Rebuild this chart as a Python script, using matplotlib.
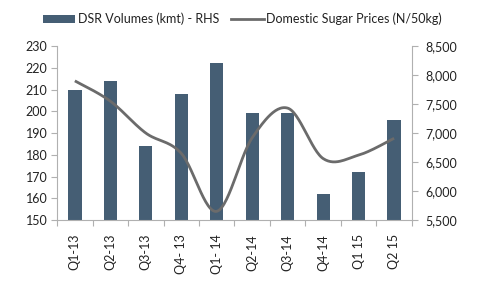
import numpy as np
import matplotlib
matplotlib.use("Agg")
import matplotlib.pyplot as plt
from matplotlib.lines import Line2D
from matplotlib.patches import Patch

categories = ["Q1-13", "Q2-13", "Q3-13", "Q4- 13", "Q1- 14", "Q2-14", "Q3-14", "Q4-14", "Q1 15", "Q2 15"]
volumes = [210, 214, 184, 208, 222, 199, 199, 162, 172, 196]
prices = [7900, 7550, 7000, 6650, 5650, 6920, 7430, 6560, 6620, 6910]
left_ticks = [150, 160, 170, 180, 190, 200, 210, 220, 230]
right_ticks = [5500, 6000, 6500, 7000, 7500, 8000, 8500]

bar_color = "#455E74"
line_color = "#6B6B6B"
spine_color = "#B0B0B0"
text_color = "#222222"

plt.rcParams['font.family'] = ['Lato', 'DejaVu Sans']

def smooth(xs, ys, n=30):
    # Bezier smoothing similar to spreadsheet "smoothed line"
    xs = np.asarray(xs, float); ys = np.asarray(ys, float)
    px, py = [], []
    m = len(xs)
    for i in range(m - 1):
        p0 = np.array([xs[max(i - 1, 0)], ys[max(i - 1, 0)]])
        p1 = np.array([xs[i], ys[i]])
        p2 = np.array([xs[i + 1], ys[i + 1]])
        p3 = np.array([xs[min(i + 2, m - 1)], ys[min(i + 2, m - 1)]])
        c1 = p1 + (p2 - p0) / 6.0
        c2 = p2 - (p3 - p1) / 6.0
        t = np.linspace(0, 1, n)[:, None]
        pts = ((1 - t) ** 3) * p1 + 3 * ((1 - t) ** 2) * t * c1 + 3 * (1 - t) * t ** 2 * c2 + t ** 3 * p2
        px.extend(pts[:, 0]); py.extend(pts[:, 1])
    return np.array(px), np.array(py)

fig = plt.figure(figsize=(4.8, 2.88), dpi=100)
ax = fig.add_axes([0.119, 0.236, 0.739, 0.604])
x = np.arange(len(categories))
ax.bar(x, volumes, width=0.375, color=bar_color, zorder=2)
ax.set_ylim(150, 230)
ax.set_xlim(-0.5, len(categories) - 0.5)
ax.set_yticks(left_ticks)
ax.set_yticklabels([str(v) for v in left_ticks], fontsize=9, color=text_color)

ax2 = ax.twinx()
sx, sy = smooth(x, prices)
ax2.plot(sx, sy, color=line_color, lw=2, zorder=3, solid_capstyle='butt')
ax2.set_ylim(5500, 8500)
ax2.set_yticks(right_ticks)
ax2.set_yticklabels([f"{v:,}" for v in right_ticks], fontsize=9, color=text_color)

ax.set_xticks(np.arange(len(categories) + 1) - 0.5, minor=False)
ax.set_xticklabels([])
ax.set_xticks(x, minor=True)
ax.set_xticklabels(categories, minor=True, rotation=90, fontsize=9, color=text_color)
ax.tick_params(axis='x', which='minor', length=0, pad=10)
ax.tick_params(axis='x', which='major', length=4, color=spine_color, direction='out')
ax.tick_params(axis='y', length=4, color=spine_color, pad=3)
ax2.tick_params(axis='y', length=4, color=spine_color, pad=6)

for a in (ax, ax2):
    for s in a.spines.values():
        s.set_visible(False)
ax.spines['left'].set_visible(True)
ax.spines['left'].set_color(spine_color)
ax.spines['bottom'].set_visible(True)
ax.spines['bottom'].set_color(spine_color)
ax2.spines['right'].set_visible(True)
ax2.spines['right'].set_color(spine_color)

handles = [Patch(facecolor=bar_color, edgecolor='none'),
           Line2D([0], [0], color=line_color, lw=2)]
fig.legend(handles, ["DSR Volumes (kmt) - RHS", "Domestic Sugar Prices (N/50kg)"],
           loc='center', bbox_to_anchor=(0.505, 0.934), ncol=2, frameon=False,
           fontsize=9, handlelength=2.6, handleheight=0.6, handletextpad=0.2, columnspacing=1.0,
           labelcolor=text_color)

fig.savefig("out.png", dpi=100)
